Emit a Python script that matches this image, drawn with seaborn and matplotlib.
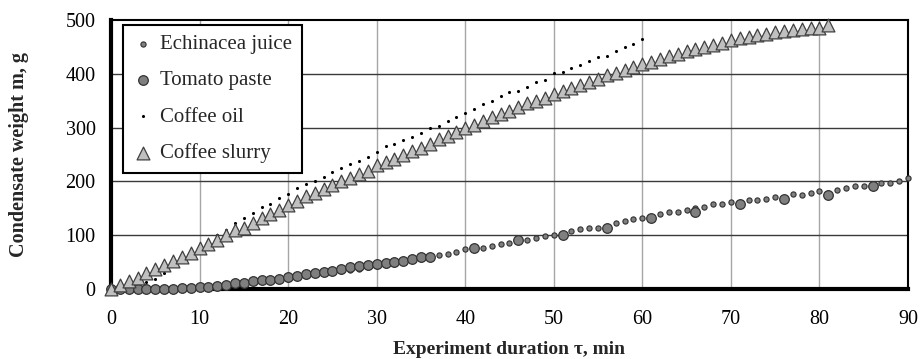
import numpy as np
import matplotlib
matplotlib.use("Agg")
import matplotlib.pyplot as plt
import seaborn as sns

# Data
echinacea_t = list(range(0, 91))
echinacea_m = [0, 0, 0, 0, 0, 0, 0, 0, 1, 2, 3, 3, 5, 6, 9, 11, 13, 15, 15, 16,
               19, 22, 24, 27, 29, 31, 33, 35, 38, 40, 43, 45, 47, 50, 53, 55,
               58, 63, 66, 69, 74, 76, 77, 80, 83, 85, 89, 91, 94, 99, 100, 102,
               108, 111, 114, 114, 116, 122, 127, 130, 132, 134, 140, 143, 143, 147,
               150, 153, 158, 158, 162, 160, 166, 166, 168, 171, 170, 177, 175, 179,
               182, 178, 184, 188, 192, 192, 193, 197, 197, 201, 206]
tomato_t = list(range(0, 37)) + [41, 46, 51, 56, 61, 66, 71, 76, 81, 86]
tomato_m = [0, 0, 0, 0, 0, 0, 0, 0, 1, 2, 3, 4, 6, 7, 11, 12, 15, 16, 17, 19,
            22, 25, 27, 30, 32, 33, 37, 40, 43, 45, 47, 48, 50, 52, 56, 59, 60,
            77, 91, 100, 114, 132, 143, 158, 168, 175, 192]
oil_t = list(range(4, 61))
oil_m = [13, 18, 30, 46, 57, 67, 78, 89, 100, 110, 123, 132, 141, 153, 158, 169,
         177, 188, 195, 200, 209, 218, 225, 233, 238, 246, 255, 265, 270, 277,
         283, 291, 300, 304, 313, 319, 328, 335, 344, 350, 358, 366, 369, 376,
         384, 389, 402, 404, 411, 417, 424, 432, 434, 442, 450, 456, 464]
slurry_t = list(range(0, 82))
slurry_m = [0, 8, 15, 20, 30, 37, 45, 52, 59, 67, 76, 84, 91, 100, 109, 114, 123,
            132, 140, 147, 156, 164, 172, 179, 186, 194, 200, 207, 213, 220, 230,
            236, 242, 250, 257, 263, 270, 278, 285, 292, 300, 305, 313, 319, 325,
            331, 338, 345, 350, 356, 363, 368, 374, 380, 385, 390, 397, 402, 407,
            412, 418, 423, 428, 433, 437, 442, 446, 450, 454, 458, 463, 466, 469,
            472, 475, 477, 480, 482, 483, 485, 486, 490]

x_ticks = [0, 10, 20, 30, 40, 50, 60, 70, 80, 90]
y_ticks = [0, 100, 200, 300, 400, 500]

sns.set_theme(style="white")
plt.rcParams['font.family'] = ['Liberation Serif', 'DejaVu Serif']

fig = plt.figure(figsize=(9.22, 3.59), dpi=100)
ax = fig.add_axes([0.1204, 0.195, 0.8644, 0.749])

# vertical grid lighter than horizontal grid
for xv in x_ticks[1:-1]:
    ax.axvline(xv, color="#a6a6a6", lw=1.0, zorder=0)
for yv in y_ticks[1:-1]:
    ax.axhline(yv, color="#3a3a3a", lw=1.0, zorder=0)

sns.scatterplot(x=echinacea_t, y=echinacea_m, ax=ax, marker="o", s=14,
                color="#808080", edgecolor="#303030", linewidth=0.8,
                label="Echinacea juice", zorder=3, clip_on=False)
sns.scatterplot(x=tomato_t, y=tomato_m, ax=ax, marker="o", s=48,
                color="#7f7f7f", edgecolor="#333333", linewidth=0.9,
                label="Tomato paste", zorder=4, clip_on=False)
sns.scatterplot(x=oil_t, y=oil_m, ax=ax, marker="o", s=5,
                color="#000000", edgecolor="#000000", linewidth=0,
                label="Coffee oil", zorder=3, clip_on=False)
sns.scatterplot(x=slurry_t, y=slurry_m, ax=ax, marker="^", s=85,
                color="#c0c0c0", edgecolor="#404040", linewidth=0.9,
                label="Coffee slurry", zorder=5, clip_on=False)

ax.set_xlim(0, 90)
ax.set_ylim(0, 500)
ax.set_xticks(x_ticks)
ax.set_yticks(y_ticks)
ax.tick_params(axis="both", labelsize=14.5, colors="black", direction="out",
               length=5, width=2, pad=6)
ax.tick_params(axis="x", pad=10)

for side in ["left", "bottom"]:
    ax.spines[side].set_linewidth(3)
    ax.spines[side].set_color("black")
for side in ["top", "right"]:
    ax.spines[side].set_linewidth(1.5)
    ax.spines[side].set_color("black")

ax.set_xlabel("Experiment duration τ, min", fontsize=14, fontweight="bold",
              labelpad=9)
ax.set_ylabel("Condensate weight m, g", fontsize=14.5, fontweight="bold",
              labelpad=26)

leg = ax.legend(loc="upper left", bbox_to_anchor=(0.015, 0.981), borderaxespad=0,
                fontsize=15, frameon=True, fancybox=False, edgecolor="black",
                handletextpad=0.35, labelspacing=0.8, borderpad=0.45,
                handlelength=1.0, markerscale=1.0)
leg.get_frame().set_linewidth(1.5)
leg.get_frame().set_alpha(1)
leg.set_zorder(10)

fig.savefig("out.png", dpi=100)
